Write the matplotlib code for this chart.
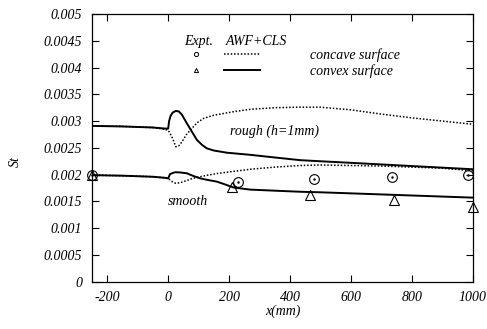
import matplotlib
matplotlib.use('Agg')
import matplotlib.pyplot as plt
from matplotlib.lines import Line2D
from matplotlib.legend_handler import HandlerTuple

plt.rcParams['font.family'] = ['Liberation Serif', 'DejaVu Serif']
plt.rcParams['font.style'] = 'italic'
plt.rcParams['font.size'] = 10

# rough wall (h=1mm), AWF+CLS
rough_convex_x = [-250, -150, -50, -10, 0, 3, 8, 15, 25, 35, 45, 61, 78, 94, 110, 127, 150, 171, 192,
                  230, 269, 350, 433, 498, 600, 700, 800, 900, 1000]
rough_convex_y = [0.00291, 0.00290, 0.00288, 0.00286, 0.00286, 0.00300, 0.00310, 0.00316, 0.00319,
                  0.00318, 0.00312, 0.00296, 0.00280, 0.00265, 0.00256, 0.00249, 0.00245, 0.00243,
                  0.00241, 0.00239, 0.00237, 0.00232, 0.00227, 0.00225, 0.00222, 0.00219, 0.00216,
                  0.00213, 0.00210]
rough_concave_x = [-250, -150, -50, -25, 0, 12, 25, 35, 45, 60, 78, 95, 116, 150, 214, 269, 350, 433,
                   498, 600, 700, 800, 900, 1000]
rough_concave_y = [0.00291, 0.00290, 0.00288, 0.00286, 0.00283, 0.00271, 0.00252, 0.00254, 0.00261,
                   0.00275, 0.002865, 0.00297, 0.00305, 0.00311, 0.003175, 0.00322, 0.00325, 0.00326,
                   0.00326, 0.00321, 0.00313, 0.00306, 0.00300, 0.00294]

# smooth wall, AWF+CLS
smooth_convex_x = [-250, -150, -50, -10, 0, 6, 15, 23, 40, 61, 80, 105, 130, 159, 185, 214, 269, 350,
                   433, 498, 600, 700, 800, 900, 1000]
smooth_convex_y = [0.00199, 0.00198, 0.00196, 0.00194, 0.00193, 0.00201, 0.00203, 0.002045, 0.00204,
                   0.002025, 0.00198, 0.00193, 0.00190, 0.00187, 0.00182, 0.00176, 0.00172, 0.00170,
                   0.00168, 0.00167, 0.00165, 0.00163, 0.00161, 0.00159, 0.00157]
smooth_concave_x = [-250, -150, -50, -10, 0, 6, 15, 25, 40, 61, 80, 105, 130, 159, 214, 269, 350, 433,
                    498, 600, 700, 800, 900, 1000]
smooth_concave_y = [0.00199, 0.00198, 0.00196, 0.00194, 0.00193, 0.00190, 0.00186, 0.001838, 0.00185,
                    0.00189, 0.00193, 0.00196, 0.00199, 0.00202, 0.00206, 0.00210, 0.00214, 0.00217,
                    0.00218, 0.00217, 0.00216, 0.00214, 0.00212, 0.00207]

# experiments (smooth wall)
expt_concave_x = [-250, 229, 479, 735, 984]
expt_concave_y = [0.00199, 0.001856, 0.00191, 0.00196, 0.00199]
expt_convex_x = [-250, 208, 466, 742, 999]
expt_convex_y = [0.00200, 0.001775, 0.00162, 0.00153, 0.00140]

xticks = [-200, 0, 200, 400, 600, 800, 1000]
yticks = [0, 0.0005, 0.001, 0.0015, 0.002, 0.0025, 0.003, 0.0035, 0.004, 0.0045, 0.005]
ytick_labels = ['0', '0.0005', '0.001', '0.0015', '0.002', '0.0025', '0.003', '0.0035',
                '0.004', '0.0045', '0.005']

fig = plt.figure(figsize=(4.87, 3.29), dpi=100)
ax = fig.add_axes([0.1889, 0.1438, 0.7823, 0.8136])

dotted = (0, (1, 1.2))
ax.plot(rough_concave_x, rough_concave_y, color='black', lw=1.1, ls=dotted)
ax.plot(rough_convex_x, rough_convex_y, color='black', lw=1.4)
ax.plot(smooth_concave_x, smooth_concave_y, color='black', lw=1.1, ls=dotted)
ax.plot(smooth_convex_x, smooth_convex_y, color='black', lw=1.4)

ax.plot(expt_concave_x, expt_concave_y, ls='none', marker='o', ms=7, mfc='none', mec='black',
        mew=0.8, clip_on=False)
ax.plot(expt_concave_x, expt_concave_y, ls='none', marker='.', ms=1.5, color='black', clip_on=False)
ax.plot(expt_convex_x, expt_convex_y, ls='none', marker='^', ms=7, mfc='none', mec='black',
        mew=0.8, clip_on=False)

ax.set_xlim(-250, 1000)
ax.set_ylim(0, 0.005)
ax.set_xticks(xticks)
ax.set_xticklabels([str(t) for t in xticks])
ax.set_yticks(yticks)
ax.set_yticklabels(ytick_labels)
ax.tick_params(direction='in', length=5, width=0.8, top=True, right=True, pad=7)
for s in ax.spines.values():
    s.set_linewidth(0.9)

ax.set_xlabel('x(mm)')
ax.xaxis.set_label_coords(0.5, -0.086)
ax.set_ylabel('St')
ax.yaxis.set_label_coords(-0.184, 0.447)

ax.text(203, 0.00281, 'rough (h=1mm)', va='center', ha='left')
ax.text(0, 0.00149, 'smooth', va='center', ha='left')

# legend
h_circ = Line2D([], [], ls='none', marker='o', ms=3, mfc='none', mec='black', mew=0.7)
h_tri = Line2D([], [], ls='none', marker='^', ms=3, mfc='none', mec='black', mew=0.7)
h_dot = Line2D([], [], color='black', lw=1.1, ls=dotted)
h_sol = Line2D([], [], color='black', lw=1.4)
ax.legend([(h_circ, h_dot), (h_tri, h_sol)], ['concave surface', 'convex surface'],
          handler_map={tuple: HandlerTuple(ndivide=None, pad=0.72)},
          loc='upper left', bbox_to_anchor=(0.2257, 0.874), frameon=False, borderpad=0,
          borderaxespad=0, handlelength=5.9, handletextpad=3.6, labelspacing=0.2)
ax.text(0.2808, 0.8965, 'Expt.', transform=ax.transAxes, ha='center', va='center')
ax.text(0.3517, 0.8965, 'AWF+CLS', transform=ax.transAxes, ha='left', va='center')

fig.savefig('out.png', dpi=100)
